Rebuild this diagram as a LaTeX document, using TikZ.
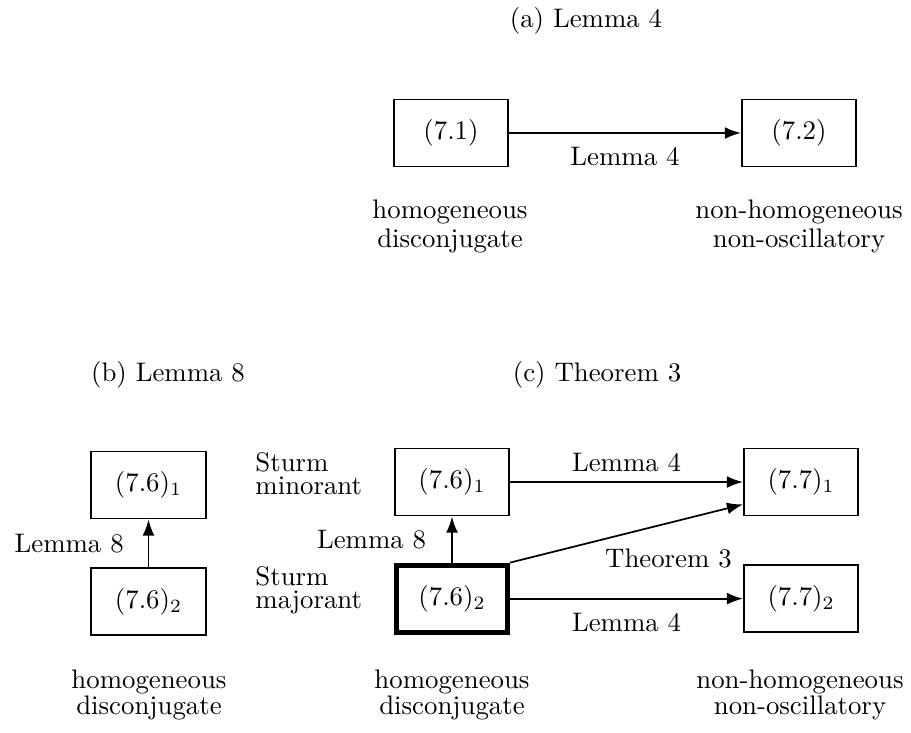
\documentclass[tikz,border=0pt]{standalone}
\usetikzlibrary{arrows.meta,positioning,calc}

\begin{document}
\begin{tikzpicture}[x=0.373pt,y=-0.373pt,
  eqbox/.style={draw,line width=0.7pt,minimum width=42.6pt,minimum height=25pt,inner sep=0pt},
  heavy/.style={line width=1.9pt,minimum width=41.4pt,minimum height=25pt},
  imp/.style={-{Latex[length=6pt,width=4.4pt]},line width=0.65pt},
  note/.style={align=center},
  side/.style={align=left,anchor=west},
]
\useasboundingbox (0,0) rectangle (911,732);

% (a) Lemma 4
\node (ta) at (586,21) {(a) Lemma 4};
\node[eqbox] (a1) at (451,133) {$(7.1)$};
\node[eqbox,right=86.5pt of a1] (a2) {$(7.2)$};
\draw[imp] (a1) -- node[below=1.6pt] (la) {Lemma 4} (a2);
\node[note] (ha) at (450,226) {homogeneous\\[-1.2pt]disconjugate};
\node[note] (na) at (799,226) {non-homogeneous\\[-1.2pt]non-oscillatory};

% (b) Lemma 8
\node (tb) at (168,375) {(b) Lemma 8};
\node[eqbox] (b1) at (148.5,485) {$(7.6)_1$};
\node[eqbox,below=17.9pt of b1] (b2) {$(7.6)_2$};
\draw[imp] (b2) -- node[left=5.6pt] (lb) {Lemma 8} (b1);
\node[note] (hb) at (149,695) {homogeneous\\[-2pt]disconjugate};

% (c) Theorem 3
\node (tc) at (597,375) {(c) Theorem 3};
\node[eqbox] (c1) at (452,482) {$(7.6)_1$};
\node[eqbox,heavy,below=17.2pt of c1] (c2) {$(7.6)_2$};
\node[eqbox,right=86.9pt of c1] (d1) {$(7.7)_1$};
\node[eqbox,right=86.9pt of c2] (d2) {$(7.7)_2$};
\coordinate (d1in) at ($(d1.west)!0.65!(d1.south west)$);
\node[side] (smin) at (246,474) {Sturm\\[-3.5pt]minorant};
\node[side] (smaj) at (246,590) {Sturm\\[-3.5pt]majorant};
\draw[imp] (c2) -- node[left=6pt] (lc) {Lemma 8} (c1);
\draw[imp] (c1) -- node[above] (l1) {Lemma 4} (d1);
\draw[imp] (c2.north east) -- node[pos=0.68,below=6pt] (lt) {Theorem 3} (d1in);
\draw[imp] (c2) -- node[below=1.7pt] (l2) {Lemma 4} (d2);
\node[note] (hc) at (452,695) {homogeneous\\[-2pt]disconjugate};
\node[note] (nc) at (800,695) {non-homogeneous\\[-2pt]non-oscillatory};
\end{tikzpicture}
\end{document}
